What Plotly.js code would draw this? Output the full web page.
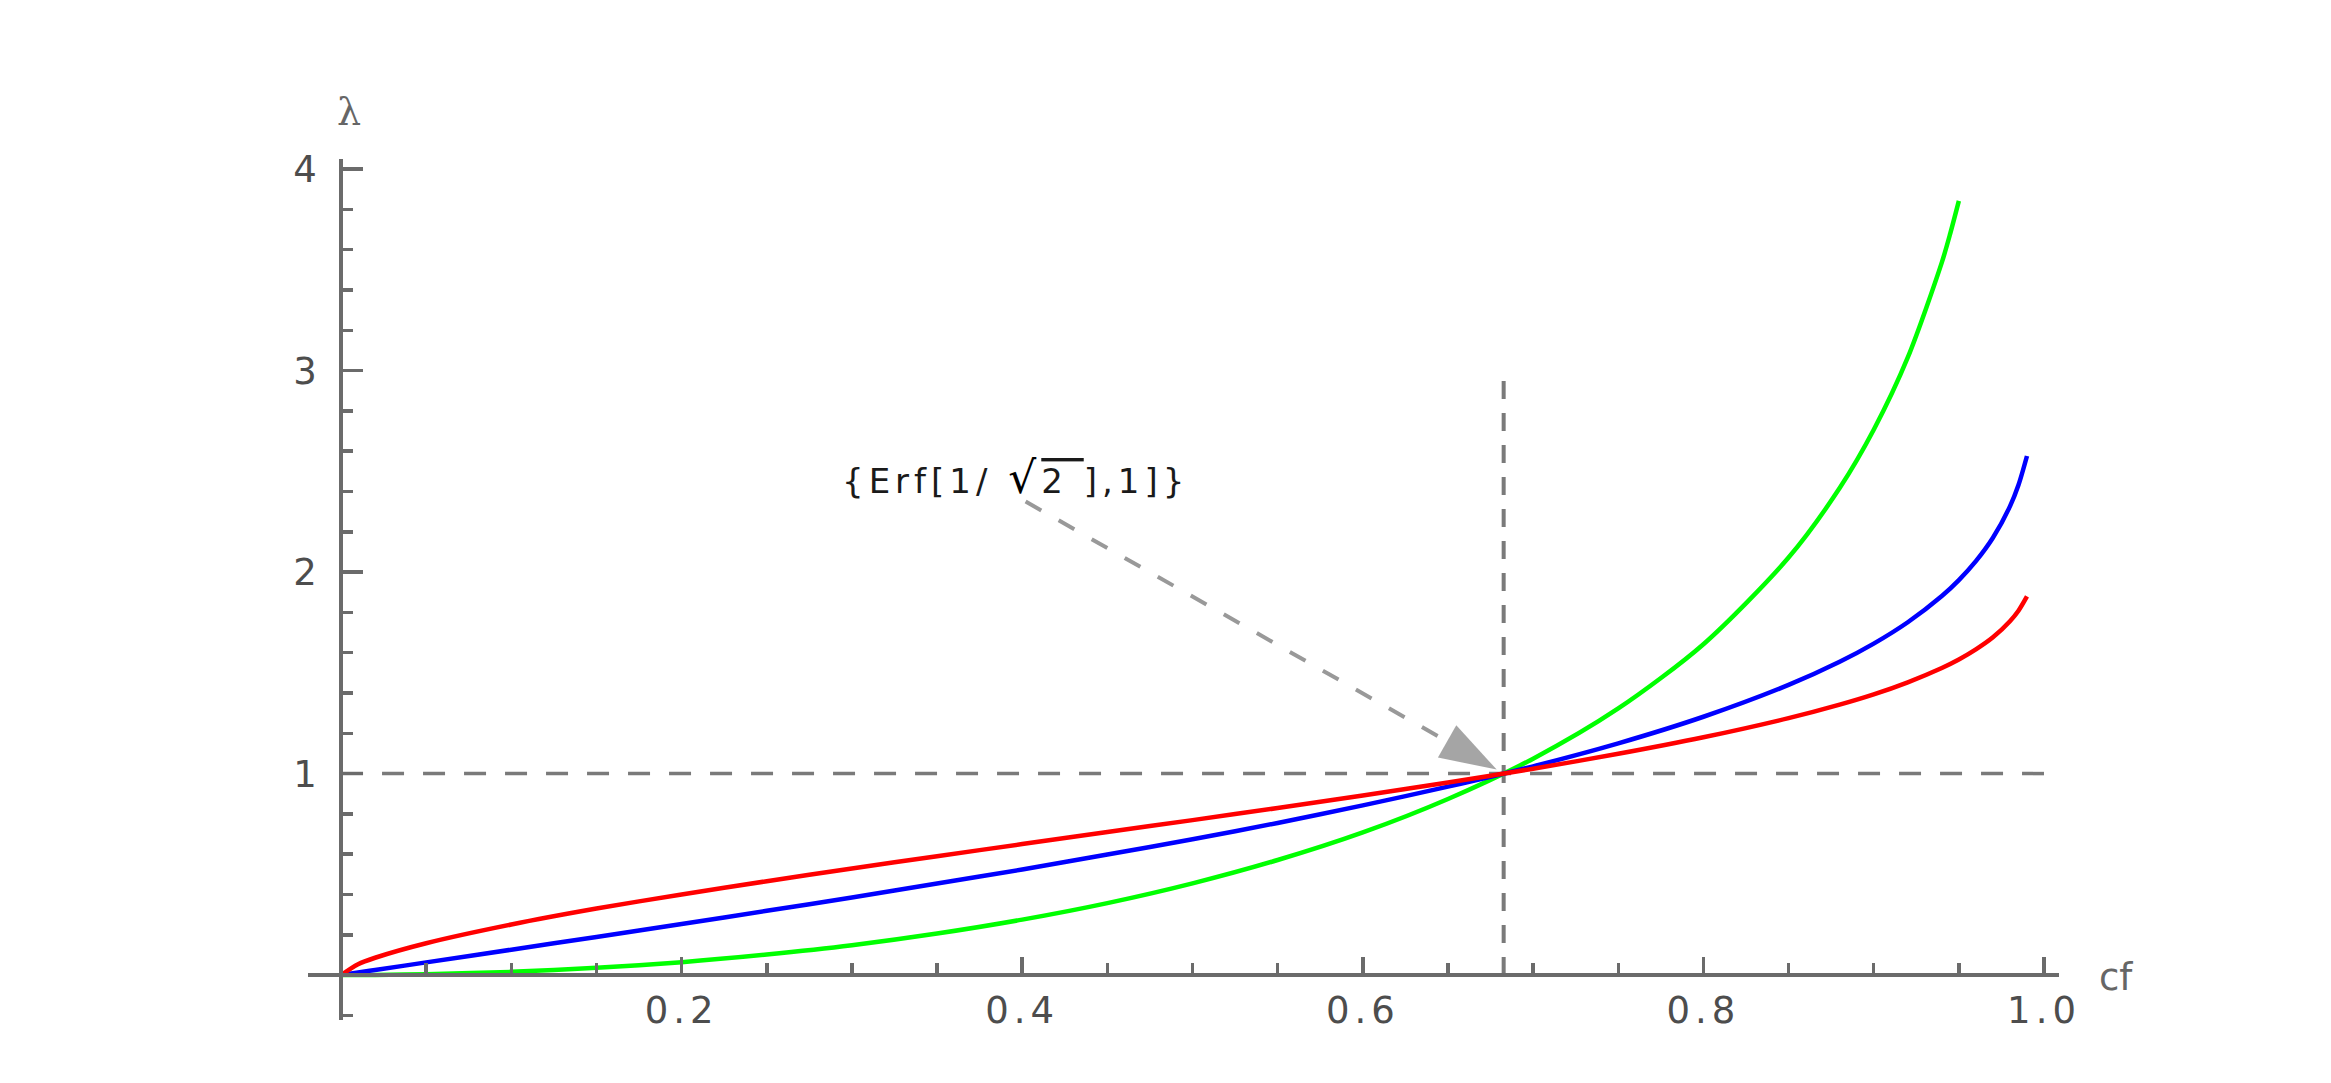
<!DOCTYPE html>
<html>
<head>
<meta charset="utf-8">
<script src="https://cdn.plot.ly/plotly-3.0.1.min.js"></script>
<style>
  body { margin: 0; background: #fff; }
  #chart { width: 2331px; height: 1083px; }
  #chart .xtick text, #chart .ytick text { letter-spacing: 5px !important; }
  #chart .annotation[data-index="0"] text { letter-spacing: 5px !important; }
</style>
</head>
<body>
<div id="chart"></div>
<script>
// values
const cfVals = [0, 0.01, 0.02, 0.05, 0.1, 0.15, 0.2, 0.25, 0.3, 0.35, 0.4, 0.45, 0.5, 0.55, 0.6,
                0.65, 0.7, 0.75, 0.8, 0.85, 0.88, 0.9, 0.92, 0.94, 0.95, 0.96, 0.97, 0.98, 0.985, 0.99];
const lamRed = [0, 0.054, 0.086, 0.158, 0.251, 0.330, 0.400, 0.466, 0.529, 0.590, 0.650, 0.710, 0.769, 0.829, 0.891,
                0.956, 1.024, 1.098, 1.180, 1.275, 1.342, 1.393, 1.453, 1.524, 1.566, 1.616, 1.676, 1.756, 1.808, 1.879];
const lamBlue = [0, 0.013, 0.025, 0.063, 0.126, 0.189, 0.253, 0.319, 0.385, 0.454, 0.524, 0.598, 0.674, 0.755, 0.842,
                 0.935, 1.036, 1.150, 1.282, 1.440, 1.555, 1.645, 1.751, 1.881, 1.960, 2.054, 2.170, 2.326, 2.432, 2.576];
const cfGreen = [0, 0.01, 0.02, 0.05, 0.1, 0.15, 0.2, 0.25, 0.3, 0.35, 0.4, 0.45, 0.5, 0.55, 0.6,
                 0.65, 0.7, 0.75, 0.8, 0.85, 0.88, 0.9, 0.92, 0.94, 0.945, 0.95];
const lamGreen = [0, 0.0002, 0.0006, 0.004, 0.016, 0.036, 0.064, 0.102, 0.148, 0.206, 0.275, 0.357, 0.455, 0.571, 0.708,
                  0.874, 1.074, 1.323, 1.642, 2.072, 2.417, 2.706, 3.065, 3.537, 3.682, 3.842];

const xTickVals = [0.2, 0.4, 0.6, 0.8, 1.0];
const xTickText = ['0.2', '0.4', '0.6', '0.8', '1.0'];
const yTickVals = [1, 2, 3, 4];
const yTickText = ['1', '2', '3', '4'];

// the marked point {Erf[1/Sqrt[2]], 1} and its label
const cfStar = 0.6827;
const lamStar = 1;
const vLineTop = 3;
const hLineEnd = 1.0;
const labelPos = [0.396, 2.47];
const arrowFrom = [0.402, 2.35];

const axisGrey = '#6b6b6b';
const tickFont = {family: '"DejaVu Sans", "Liberation Sans", sans-serif', size: 37, color: '#4d4d4d'};

function curve(x, y, color) {
  return {
    x: x, y: y,
    type: 'scatter',
    mode: 'lines',
    line: {color: color, width: 4.5, shape: 'spline', smoothing: 0.8},
    hoverinfo: 'skip'
  };
}

const traces = [
  curve(cfGreen, lamGreen, '#00ff00'),
  curve(cfVals, lamBlue, '#0000ff'),
  curve(cfVals, lamRed, '#ff0000'),
  {
    // dashed arrow from the label to the point
    x: [arrowFrom[0], cfStar],
    y: [arrowFrom[1], lamStar],
    type: 'scatter',
    mode: 'lines+markers',
    line: {color: '#999', width: 4, dash: '18px,20px'},
    marker: {
      symbol: ['circle', 'arrow'],
      size: [0, 60],
      color: '#7f7f7f',
      angleref: 'previous',
      standoff: 8,
      line: {width: 0}
    },
    hoverinfo: 'skip'
  }
];

const layout = {
  width: 2331,
  height: 1083,
  margin: {l: 308, r: 272, t: 159, b: 63},
  paper_bgcolor: '#fff',
  plot_bgcolor: '#fff',
  showlegend: false,
  hovermode: false,
  xaxis: {
    range: [-0.0194, 1.0088],
    anchor: 'free',
    position: 0.0522,
    showgrid: false,
    zeroline: false,
    showline: true,
    linecolor: axisGrey,
    linewidth: 4,
    tickmode: 'array',
    tickvals: xTickVals,
    ticktext: xTickText,
    ticks: 'inside',
    ticklen: 16,
    tickwidth: 3.5,
    tickcolor: axisGrey,
    ticklabelstandoff: 2,
    tickfont: tickFont,
    minor: {dtick: 0.05, tick0: 0, ticks: 'inside', ticklen: 10, tickwidth: 3.5, tickcolor: axisGrey, showgrid: false}
  },
  yaxis: {
    range: [-0.223, 4.05],
    anchor: 'free',
    position: 0.0189,
    showgrid: false,
    zeroline: false,
    showline: true,
    linecolor: axisGrey,
    linewidth: 4,
    tickmode: 'array',
    tickvals: yTickVals,
    ticktext: yTickText,
    ticks: 'inside',
    ticklen: 20,
    tickwidth: 3.5,
    tickcolor: axisGrey,
    ticklabelstandoff: 10,
    tickfont: tickFont,
    minor: {dtick: 0.2, tick0: 0, ticks: 'inside', ticklen: 10, tickwidth: 3.5, tickcolor: axisGrey, showgrid: false}
  },
  shapes: [
    {type: 'line', xref: 'x', yref: 'y', x0: 0, x1: hLineEnd, y0: lamStar, y1: lamStar,
     layer: 'below', line: {color: '#7a7a7a', width: 3.5, dash: '22px,19px'}},
    {type: 'line', xref: 'x', yref: 'y', x0: cfStar, x1: cfStar, y0: 0, y1: vLineTop,
     layer: 'below', line: {color: '#7a7a7a', width: 4, dash: '18px,14px'}}
  ],
  annotations: [
    {
      x: labelPos[0], y: labelPos[1], xref: 'x', yref: 'y',
      text: "{Erf[1/ <span style='font-size:44px;color:#000'>√</span><span style='text-decoration:overline'>2 </span>],1]}",
      showarrow: false,
      font: {family: '"DejaVu Sans", "Liberation Sans", sans-serif', size: 34, color: '#1a1a1a'}
    },
    {
      x: 0.0154, y: 1.082, xref: 'paper', yref: 'paper',
      text: 'λ', showarrow: false,
      font: {family: '"DejaVu Serif", serif', size: 38, color: '#666'}
    },
    {
      x: 1.0436, y: 0.022, xref: 'paper', yref: 'paper',
      text: 'cf', showarrow: false,
      font: {family: '"DejaVu Sans", "Liberation Sans", sans-serif', size: 37, color: '#666'}
    }
  ]
};

Plotly.newPlot('chart', traces, layout, {staticPlot: true});
</script>
</body>
</html>
